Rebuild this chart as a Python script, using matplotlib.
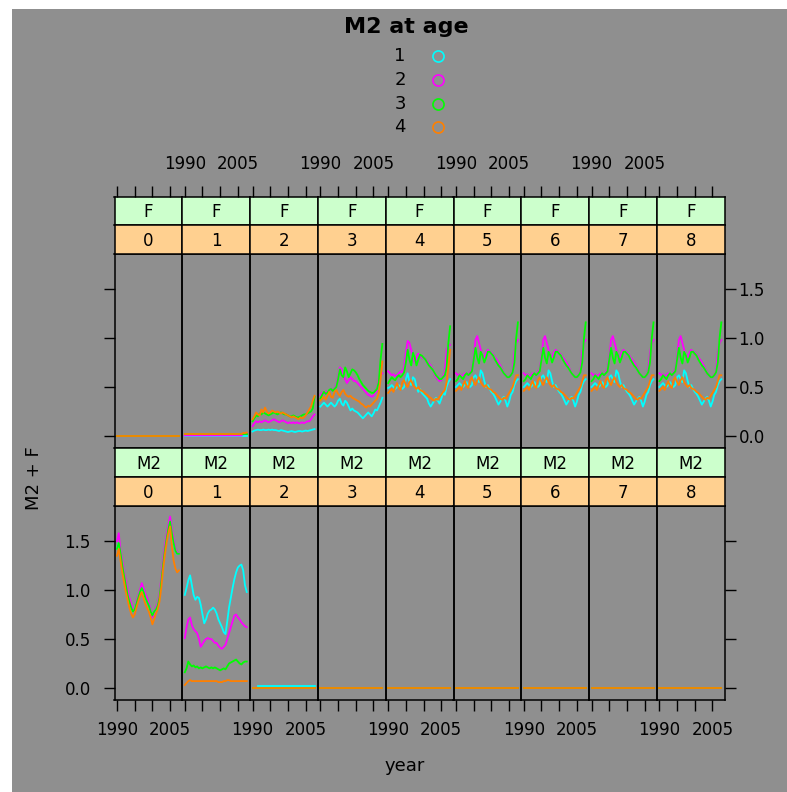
#!/usr/bin/env python3
import numpy as np
import matplotlib
matplotlib.use("Agg")
import matplotlib.pyplot as plt
from matplotlib.lines import Line2D
from matplotlib.patches import Rectangle

plt.rcParams['font.family'] = ['DejaVu Sans']

#######################################################
# data: half-yearly values, 1990.0 .. 2007.5

years = np.arange(1990, 2008, 0.5)
ages = ["0", "1", "2", "3", "4", "5", "6", "7", "8"]
series_names = ["1", "2", "3", "4"]
series_colors = ["#00FFFF", "#FF00FF", "#00FF00", "#FF8000"]

zero = [0.0] * 36
nan3 = [np.nan] * 3

# F panels
f0 = [zero, zero, zero, zero]
f1 = [zero,
      [0.005] * 33 + [0.02, 0.025, 0.03],
      [0.02] * 36,
      [0.02] * 33 + [0.03, 0.03, 0.035]]
f2_a1 = [0.045, 0.055, 0.06, 0.065, 0.06, 0.06, 0.065, 0.06, 0.06, 0.065, 0.06, 0.065,
         0.06, 0.06, 0.055, 0.05, 0.06, 0.055, 0.05, 0.045, 0.04, 0.045, 0.05, 0.045,
         0.04, 0.045, 0.05, 0.05, 0.045, 0.05, 0.055, 0.05, 0.055, 0.06, 0.065, 0.07]
f2_a2 = [0.10, 0.13, 0.15, 0.14, 0.15, 0.14, 0.15, 0.16, 0.15, 0.14, 0.15, 0.16,
         0.17, 0.16, 0.15, 0.14, 0.15, 0.16, 0.15, 0.14, 0.13, 0.14, 0.13, 0.14,
         0.13, 0.14, 0.13, 0.13, 0.14, 0.13, 0.14, 0.15, 0.15, 0.17, 0.20, 0.22]
f2_a3 = [0.15, 0.18, 0.21, 0.20, 0.23, 0.22, 0.24, 0.23, 0.22, 0.21, 0.22, 0.23,
         0.24, 0.23, 0.22, 0.23, 0.24, 0.23, 0.22, 0.22, 0.21, 0.20, 0.20, 0.21,
         0.20, 0.19, 0.19, 0.20, 0.21, 0.22, 0.22, 0.23, 0.24, 0.25, 0.28, 0.40]
f2_a4 = [0.17, 0.20, 0.24, 0.22, 0.21, 0.27, 0.24, 0.29, 0.25, 0.23, 0.24, 0.26,
         0.25, 0.24, 0.25, 0.24, 0.23, 0.24, 0.23, 0.22, 0.21, 0.20, 0.19, 0.20,
         0.19, 0.18, 0.17, 0.19, 0.18, 0.19, 0.21, 0.24, 0.27, 0.30, 0.36, 0.41]
f3_a1 = [0.30, 0.32, 0.34, 0.32, 0.30, 0.32, 0.34, 0.32, 0.30, 0.32, 0.36, 0.38,
         0.33, 0.31, 0.36, 0.34, 0.30, 0.26, 0.28, 0.26, 0.25, 0.24, 0.22, 0.20,
         0.18, 0.20, 0.22, 0.24, 0.22, 0.20, 0.23, 0.27, 0.26, 0.30, 0.34, 0.39]
f3_a2 = [0.42, 0.44, 0.43, 0.45, 0.44, 0.46, 0.48, 0.47, 0.48, 0.52, 0.60, 0.70,
         0.68, 0.62, 0.58, 0.54, 0.57, 0.60, 0.58, 0.56, 0.56, 0.54, 0.52, 0.50,
         0.48, 0.46, 0.44, 0.42, 0.41, 0.40, 0.41, 0.44, 0.46, 0.58, 0.62, 0.64]
f3_a3 = [0.38, 0.42, 0.45, 0.43, 0.44, 0.47, 0.48, 0.46, 0.48, 0.50, 0.58, 0.68,
         0.62, 0.60, 0.70, 0.66, 0.60, 0.64, 0.68, 0.67, 0.65, 0.62, 0.58, 0.55,
         0.52, 0.50, 0.48, 0.46, 0.45, 0.44, 0.44, 0.46, 0.48, 0.55, 0.78, 0.94]
f3_a4 = [0.36, 0.38, 0.40, 0.37, 0.41, 0.45, 0.40, 0.39, 0.45, 0.47, 0.43, 0.41,
         0.45, 0.47, 0.43, 0.41, 0.40, 0.41, 0.39, 0.38, 0.37, 0.36, 0.35, 0.33,
         0.32, 0.30, 0.29, 0.31, 0.30, 0.32, 0.34, 0.36, 0.38, 0.44, 0.58, 0.76]
f4_a1 = [0.49, 0.50, 0.52, 0.50, 0.48, 0.50, 0.52, 0.50, 0.48, 0.50, 0.58, 0.64,
         0.55, 0.52, 0.60, 0.58, 0.50, 0.45, 0.48, 0.44, 0.42, 0.40, 0.38, 0.33,
         0.30, 0.33, 0.36, 0.39, 0.36, 0.33, 0.38, 0.44, 0.42, 0.50, 0.55, 0.58]
f4_a2 = [0.66, 0.64, 0.62, 0.63, 0.61, 0.62, 0.64, 0.66, 0.65, 0.70, 0.85, 0.97,
         0.95, 0.88, 0.82, 0.75, 0.80, 0.84, 0.82, 0.80, 0.80, 0.78, 0.76, 0.74,
         0.72, 0.68, 0.64, 0.60, 0.58, 0.56, 0.57, 0.61, 0.65, 0.88, 0.92, 0.93]
f4_a3 = [0.54, 0.57, 0.60, 0.58, 0.57, 0.60, 0.62, 0.60, 0.62, 0.65, 0.75, 0.88,
         0.78, 0.72, 0.85, 0.80, 0.72, 0.78, 0.83, 0.82, 0.80, 0.78, 0.75, 0.72,
         0.70, 0.68, 0.65, 0.62, 0.60, 0.58, 0.58, 0.60, 0.62, 0.70, 0.95, 1.12]
f4_a4 = [0.44, 0.46, 0.48, 0.45, 0.50, 0.54, 0.49, 0.47, 0.55, 0.57, 0.52, 0.50,
         0.55, 0.57, 0.52, 0.50, 0.48, 0.50, 0.47, 0.46, 0.45, 0.43, 0.42, 0.40,
         0.39, 0.37, 0.36, 0.38, 0.37, 0.40, 0.42, 0.45, 0.47, 0.55, 0.70, 0.88]
# ages 5-8 look identical in the picture
f5_a1 = [0.50, 0.52, 0.54, 0.52, 0.50, 0.52, 0.55, 0.52, 0.50, 0.52, 0.60, 0.62,
         0.58, 0.55, 0.67, 0.64, 0.56, 0.50, 0.52, 0.48, 0.45, 0.43, 0.40, 0.36,
         0.32, 0.35, 0.38, 0.40, 0.36, 0.30, 0.35, 0.42, 0.45, 0.52, 0.56, 0.58]
f5_a2 = [0.64, 0.62, 0.63, 0.61, 0.62, 0.64, 0.63, 0.62, 0.65, 0.68, 0.80, 0.98,
         1.02, 0.95, 0.88, 0.82, 0.80, 0.85, 0.88, 0.86, 0.85, 0.83, 0.80, 0.78,
         0.75, 0.72, 0.68, 0.64, 0.62, 0.60, 0.60, 0.62, 0.66, 0.85, 0.95, 0.98]
f5_a3 = [0.56, 0.58, 0.62, 0.60, 0.58, 0.62, 0.64, 0.62, 0.64, 0.66, 0.78, 0.90,
         0.80, 0.74, 0.86, 0.82, 0.75, 0.80, 0.86, 0.86, 0.84, 0.82, 0.78, 0.75,
         0.72, 0.70, 0.67, 0.64, 0.62, 0.60, 0.60, 0.62, 0.65, 0.75, 1.00, 1.16]
f5_a4 = [0.46, 0.48, 0.50, 0.47, 0.52, 0.56, 0.51, 0.49, 0.57, 0.60, 0.55, 0.52,
         0.57, 0.60, 0.55, 0.52, 0.50, 0.52, 0.49, 0.48, 0.47, 0.45, 0.44, 0.42,
         0.40, 0.38, 0.37, 0.39, 0.38, 0.41, 0.44, 0.47, 0.50, 0.56, 0.62, 0.62]

# M2 panels
m0_a2 = [1.50, 1.58, 1.40, 1.30, 1.18, 1.10, 1.00, 0.92, 0.86, 0.80, 0.78, 0.88,
         0.94, 1.00, 1.07, 1.02, 0.96, 0.92, 0.86, 0.80, 0.72, 0.76, 0.82, 0.86,
         0.95, 1.12, 1.30, 1.45, 1.56, 1.66, 1.75, 1.62, 1.52, 1.42, 1.38, 1.37]
m0_a3 = [1.42, 1.48, 1.38, 1.25, 1.15, 1.05, 0.95, 0.88, 0.82, 0.78, 0.80, 0.86,
         0.92, 0.98, 1.02, 0.98, 0.92, 0.88, 0.84, 0.78, 0.74, 0.78, 0.80, 0.84,
         0.92, 1.08, 1.25, 1.40, 1.52, 1.62, 1.70, 1.58, 1.48, 1.40, 1.37, 1.37]
m0_a4 = [1.35, 1.42, 1.30, 1.18, 1.08, 0.98, 0.90, 0.82, 0.76, 0.72, 0.75, 0.82,
         0.88, 0.94, 0.98, 0.92, 0.86, 0.82, 0.78, 0.72, 0.65, 0.70, 0.76, 0.80,
         0.88, 1.02, 1.20, 1.35, 1.48, 1.58, 1.65, 1.45, 1.30, 1.22, 1.18, 1.20]
m1_a1 = [0.95, 1.02, 1.10, 1.15, 1.05, 0.95, 0.90, 0.93, 0.92, 0.85, 0.75, 0.66,
         0.70, 0.76, 0.79, 0.80, 0.82, 0.80, 0.76, 0.70, 0.66, 0.62, 0.57, 0.55,
         0.68, 0.82, 0.92, 1.02, 1.11, 1.18, 1.23, 1.25, 1.26, 1.20, 1.05, 0.98]
m1_a2 = [0.51, 0.62, 0.70, 0.72, 0.64, 0.60, 0.58, 0.56, 0.50, 0.42, 0.45, 0.48,
         0.50, 0.51, 0.50, 0.50, 0.48, 0.46, 0.46, 0.43, 0.41, 0.40, 0.42, 0.44,
         0.50, 0.56, 0.62, 0.68, 0.74, 0.75, 0.72, 0.70, 0.67, 0.65, 0.63, 0.62]
m1_a3 = [0.16, 0.20, 0.27, 0.24, 0.22, 0.23, 0.21, 0.22, 0.20, 0.21, 0.20, 0.21,
         0.22, 0.21, 0.20, 0.21, 0.20, 0.21, 0.20, 0.19, 0.18, 0.19, 0.20, 0.19,
         0.22, 0.25, 0.26, 0.27, 0.28, 0.29, 0.27, 0.25, 0.24, 0.26, 0.27, 0.27]
m1_a4 = [0.03, 0.05, 0.07, 0.08, 0.07, 0.07, 0.07, 0.07, 0.07, 0.07, 0.07, 0.07,
         0.07, 0.07, 0.07, 0.07, 0.07, 0.07, 0.07, 0.06, 0.06, 0.06, 0.07, 0.07,
         0.08, 0.08, 0.07, 0.07, 0.07, 0.07, 0.07, 0.07, 0.07, 0.07, 0.07, 0.07]
m2_a1 = nan3 + [0.025] * 33

f_rows = [f0, f1,
          [f2_a1, f2_a2, f2_a3, f2_a4],
          [f3_a1, f3_a2, f3_a3, f3_a4],
          [f4_a1, f4_a2, f4_a3, f4_a4]] + \
         [[f5_a1, f5_a2, f5_a3, f5_a4]] * 4
m_rows = [[m0_a3, m0_a2, m0_a3, m0_a4],
          [m1_a1, m1_a2, m1_a3, m1_a4],
          [m2_a1, zero, zero, zero]] + [[zero, zero, zero, zero]] * 6

#######################################################

W, H = 787, 792
BG = "#8f8f8f"
STRIP_TOP = "#CCFFCC"
STRIP_AGE = "#FFD090"

def box(x0, y0, x1, y1):
    return [x0 / W, 1 - y1 / H, (x1 - x0) / W, (y1 - y0) / H]

def strip(fig, x0, y0, x1, y1, label, color):
    ax = fig.add_axes(box(x0, y0, x1, y1))
    ax.set_facecolor(color)
    ax.set_xticks([])
    ax.set_yticks([])
    for s in ax.spines.values():
        s.set_linewidth(1.1)
    ax.text(0.5, 0.45, label, transform=ax.transAxes, ha="center", va="center",
            fontsize=12)
    return ax

fig = plt.figure(figsize=(W / 100, H / 100), dpi=100, facecolor="white")
fig.add_artist(Rectangle((12 / W, 0), 1, 1 - 9 / H, transform=fig.transFigure,
                         facecolor=BG, edgecolor="none", zorder=-10))

xlim = (1989.3, 2008.45)
ylim = (-0.123, 1.858)
xt = [1990, 1995, 2000, 2005]
yt = [0.0, 0.5, 1.0, 1.5]
left, colw = 114.5, 67.8

rows = [("F", f_rows, 197, 225, 254, 448), ("M2", m_rows, 448, 477, 506, 700)]

for r, (name, data, s0, s1, p0, p1) in enumerate(rows):
    for c in range(9):
        x0 = left + colw * c
        x1 = x0 + colw
        ax = fig.add_axes(box(x0, p0, x1, p1))
        ax.set_facecolor("none")
        for s in ax.spines.values():
            s.set_linewidth(1.1)
        for vals, col in zip(data[c], series_colors):
            ax.plot(years, vals, color=col, lw=1.3)
        ax.set_xlim(*xlim)
        ax.set_ylim(*ylim)
        ax.set_yticks(yt)
        ax.set_yticklabels(["0.0", "0.5", "1.0", "1.5"])
        ax.tick_params(axis="y", which="both", left=(c == 0), right=(c == 8),
                       labelleft=(c == 0 and r == 1), labelright=(c == 8 and r == 0),
                       length=8, width=1.0, direction="out", labelsize=12)
        ax.tick_params(axis="y", pad=9 if r == 1 else 2)
        if r == 1:
            ax.set_xticks(xt)
            ax.set_xticklabels(["1990", "", "", "2005"])
            ax.tick_params(axis="x", bottom=True, top=False, labelbottom=(c % 2 == 0),
                           length=8, width=1.0, direction="out", labelsize=12, pad=7)
        else:
            ax.set_xticks([])

        st = strip(fig, x0, s0, x1, s1, name, STRIP_TOP)
        strip(fig, x0, s1, x1, p0, ages[c], STRIP_AGE)
        if r == 0:
            st.set_xlim(*xlim)
            st.set_xticks(xt)
            st.set_xticklabels(["1990", "", "", "2005"])
            st.tick_params(axis="x", top=True, bottom=False, labeltop=(c % 2 == 1),
                           labelbottom=False, length=8, width=1.0, direction="out",
                           labelsize=12, pad=9)

# legend
fig.text(406 / W, 1 - 27 / H, "M2 at age", ha="center", va="center",
         fontsize=16, fontweight="bold")
for i, (lab, col) in enumerate(zip(series_names, series_colors)):
    yy = 1 - (56 + 23.8 * i) / H
    fig.text(400 / W, yy, lab, ha="center", va="center", fontsize=13)
    fig.add_artist(Line2D([438 / W], [yy], transform=fig.transFigure, marker="o",
                          mfc="none", mec=col, ms=8, mew=1.2, linestyle="none"))

fig.text(34 / W, 1 - 478 / H, "M2 + F", rotation=90, ha="center", va="center",
         fontsize=13)
fig.text(405 / W, 1 - 766 / H, "year", ha="center", va="center", fontsize=13)

fig.savefig("out.png", dpi=100, facecolor="white")
